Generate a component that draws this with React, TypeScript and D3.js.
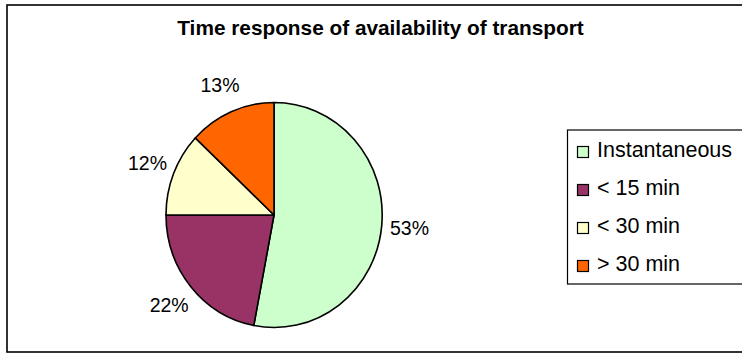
import React from "react";
import * as d3 from "d3";

const categories = ["Instantaneous", "< 15 min", "< 30 min", "> 30 min"];
const values = [53, 22, 12, 13];
const colors = ["#CCFFCC", "#993366", "#FFFFCC", "#FF6600"];
const title = "Time response of availability of transport";

const W = 742;
const H = 353;
const cx = 274;
const cy = 215;
const rx = 108;
const ry = 112.5;
const FONT = "'Liberation Sans', Arial, sans-serif";

export default function App() {
  const pie = d3.pie<number>().sort(null).value((d) => d)(values);
  const arc = d3.arc<d3.PieArcDatum<number>>().innerRadius(0).outerRadius(1);
  const total = d3.sum(values);
  const labelK = 1.26;

  const legendY = d3.scalePoint<string>().domain(categories).range([150, 264]);

  return (
    <svg
      width={W}
      height={H}
      style={{ position: "absolute", left: 0, top: 0, background: "#fff" }}
      fontFamily={FONT}
    >
      <rect x={7} y={5} width={W + 10} height={347} fill="#fff" stroke="#000" strokeWidth={1.6} />
      <text x={380.5} y={35} textAnchor="middle" fontSize={20.8} fontWeight="bold" fill="#000">
        {title}
      </text>
      <g transform={`translate(${cx},${cy}) scale(${rx},${ry})`}>
        {pie.map((p, i) => (
          <path
            key={i}
            d={arc(p) || ""}
            fill={colors[i]}
            stroke="#000"
            strokeWidth={1.6}
            vectorEffect="non-scaling-stroke"
            strokeLinejoin="round"
          />
        ))}
      </g>
      {pie.map((p, i) => {
        const a = (p.startAngle + p.endAngle) / 2;
        const x = cx + Math.sin(a) * rx * labelK;
        const y = cy - Math.cos(a) * ry * labelK;
        return (
          <text
            key={i}
            x={x}
            y={y}
            textAnchor="middle"
            dominantBaseline="central"
            fontSize={19.5}
            fill="#000"
          >
            {Math.round((p.value / total) * 100)}%
          </text>
        );
      })}
      <rect x={567.5} y={130} width={200} height={154} fill="#fff" stroke="#000" strokeWidth={1.2} />
      {categories.map((c, i) => {
        const y = legendY(c) as number;
        return (
          <g key={c}>
            <rect x={577.5} y={y - 3.5} width={11} height={11} fill={colors[i]} stroke="#000" strokeWidth={1.2} />
            <text x={597} y={y} dominantBaseline="central" fontSize={21.5} fill="#000">
              {c}
            </text>
          </g>
        );
      })}
    </svg>
  );
}
